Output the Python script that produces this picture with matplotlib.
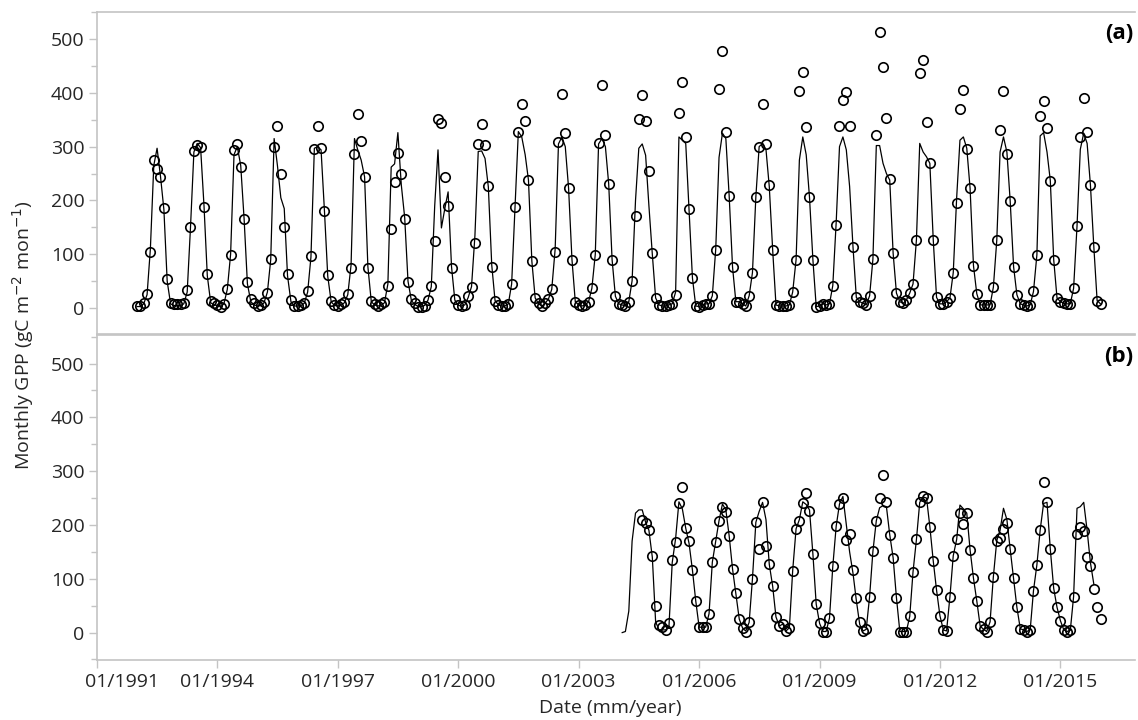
import matplotlib
matplotlib.use("Agg")
import matplotlib.pyplot as plt
import matplotlib.transforms as mtransforms
from matplotlib.ticker import MultipleLocator
import pandas as pd

plt.rcParams['font.family'] = ['Open Sans', 'DejaVu Sans']

# ---- panel (a): monthly GPP, Jan 1992 - Jan 2016 ----
obs_a = [
    4, 4, 9, 26, 104, 275, 258, 244, 186, 55, 10, 8,          # 1992
    8, 8, 9, 34, 150, 291, 303, 300, 187, 63, 14, 9,          # 1993
    6, 3, 8, 36, 99, 293, 305, 263, 166, 48, 17, 9,           # 1994
    4, 6, 12, 29, 92, 300, 339, 250, 151, 64, 15, 4,          # 1995
    4, 5, 9, 31, 97, 296, 338, 298, 181, 62, 14, 6,           # 1996
    4, 8, 12, 27, 75, 287, 361, 311, 244, 74, 14, 7,          # 1997
    4, 8, 12, 41, 147, 234, 289, 250, 166, 49, 17, 9,         # 1998
    3, 3, 4, 15, 41, 124, 352, 344, 244, 189, 74, 17,         # 1999
    6, 4, 6, 22, 40, 121, 304, 342, 303, 227, 76, 14,         # 2000
    6, 4, 4, 8, 45, 187, 327, 379, 348, 238, 87, 19,          # 2001
    9, 4, 9, 17, 35, 105, 309, 397, 325, 223, 90, 12,         # 2002
    6, 4, 6, 12, 37, 99, 307, 414, 322, 231, 90, 22,          # 2003
    8, 6, 4, 12, 51, 171, 351, 396, 348, 255, 103, 19,        # 2004
    6, 4, 4, 6, 8, 25, 363, 420, 318, 184, 56, 4,             # 2005
    3, 6, 8, 8, 23, 108, 407, 477, 327, 209, 76, 12,          # 2006
    12, 8, 4, 23, 66, 207, 300, 380, 305, 229, 108, 6,        # 2007
    4, 4, 4, 6, 30, 90, 404, 439, 337, 206, 90, 3,            # 2008
    4, 8, 6, 8, 42, 155, 338, 387, 402, 338, 113, 20,         # 2009
    12, 9, 6, 23, 91, 322, 513, 448, 354, 240, 102, 28,       # 2010
    12, 9, 15, 28, 45, 127, 437, 460, 346, 269, 127, 20,      # 2011
    8, 8, 12, 19, 66, 196, 369, 406, 295, 223, 79, 27,        # 2012
    6, 6, 6, 6, 39, 126, 331, 404, 286, 199, 77, 25,          # 2013
    8, 6, 4, 6, 31, 99, 356, 384, 335, 237, 90, 19,           # 2014
    12, 9, 8, 8, 37, 152, 317, 391, 327, 229, 114, 14,        # 2015
    8,                                                        # 2016
]
model_a = [
    3, 3, 8, 25, 110, 265, 297, 245, 183, 50, 8, 5,
    5, 5, 8, 30, 150, 290, 306, 298, 190, 60, 10, 6,
    5, 3, 8, 35, 100, 285, 300, 265, 165, 45, 12, 6,
    4, 5, 10, 30, 90, 315, 265, 205, 185, 60, 12, 4,
    4, 5, 9, 30, 95, 297, 300, 294, 180, 59, 12, 5,
    4, 6, 10, 25, 80, 315, 294, 275, 244, 77, 12, 6,
    4, 6, 10, 45, 262, 268, 326, 229, 168, 50, 14, 7,
    3, 3, 5, 15, 40, 190, 294, 149, 185, 216, 77, 15,
    5, 4, 6, 20, 40, 135, 291, 292, 278, 225, 80, 14,
    6, 4, 4, 8, 45, 190, 328, 318, 285, 238, 87, 19,
    8, 4, 9, 17, 35, 110, 305, 318, 300, 223, 90, 12,
    6, 4, 6, 12, 37, 100, 305, 315, 300, 231, 90, 22,
    8, 6, 4, 12, 51, 200, 297, 305, 284, 190, 100, 19,
    6, 4, 4, 6, 8, 30, 318, 312, 306, 184, 56, 4,
    3, 6, 8, 8, 23, 110, 280, 325, 315, 209, 76, 12,
    12, 8, 4, 23, 66, 207, 300, 306, 295, 226, 108, 6,
    4, 4, 4, 6, 30, 90, 275, 318, 285, 206, 90, 3,
    4, 8, 6, 8, 42, 160, 300, 318, 294, 226, 113, 20,
    12, 9, 6, 23, 91, 302, 302, 269, 250, 238, 102, 28,
    12, 9, 15, 28, 45, 127, 306, 290, 281, 269, 127, 20,
    8, 8, 12, 19, 66, 205, 312, 318, 297, 223, 79, 27,
    6, 6, 6, 6, 39, 126, 290, 318, 290, 199, 77, 25,
    8, 6, 4, 6, 31, 99, 320, 326, 290, 237, 90, 19,
    12, 9, 8, 8, 37, 152, 295, 325, 306, 229, 114, 14,
    8,
]

# ---- panel (b): observations Aug 2004 - Jan 2016, model Feb 2004 - Nov 2015 ----
obs_b = [
    209, 203, 191, 143, 50,                                   # 2004 (Aug-Dec)
    14, 10, 5, 17, 135, 168, 240, 271, 194, 170, 116, 59,     # 2005
    11, 11, 11, 35, 131, 168, 208, 234, 225, 180, 118, 74,    # 2006
    25, 8, 2, 19, 100, 205, 156, 242, 161, 127, 86, 29,       # 2007
    12, 16, 3, 9, 115, 193, 208, 240, 259, 226, 146, 53,      # 2008
    17, 2, 2, 27, 123, 198, 239, 250, 172, 183, 116, 64,      # 2009
    19, 3, 6, 67, 151, 208, 250, 293, 242, 182, 139, 65,      # 2010
    2, 2, 2, 30, 113, 173, 242, 253, 250, 197, 133, 79,       # 2011
    31, 5, 3, 67, 143, 173, 223, 202, 222, 154, 101, 59,      # 2012
    12, 6, 2, 20, 104, 171, 175, 192, 203, 155, 101, 47,      # 2013
    7, 5, 2, 5, 78, 126, 191, 279, 242, 155, 82, 47,          # 2014
    22, 5, 2, 4, 67, 183, 196, 188, 141, 123, 81, 47,         # 2015
    25,                                                       # 2016
]
model_b = [
    0, 2, 40, 170, 222, 228, 228, 205, 190, 140, 20,          # 2004 (Feb-Dec)
    5, 5, 5, 10, 130, 175, 243, 230, 194, 166, 116, 59,
    10, 10, 10, 35, 131, 170, 208, 239, 228, 180, 118, 73,
    25, 8, 3, 19, 100, 205, 225, 242, 210, 127, 86, 29,
    12, 16, 3, 9, 115, 193, 210, 243, 238, 228, 146, 53,
    17, 2, 2, 27, 123, 198, 239, 253, 200, 150, 110, 60,
    15, 3, 6, 67, 151, 208, 232, 236, 234, 182, 139, 65,
    2, 2, 2, 30, 113, 173, 242, 252, 250, 197, 133, 79,
    31, 5, 3, 67, 143, 173, 237, 230, 222, 154, 101, 59,
    12, 6, 2, 20, 104, 171, 190, 231, 210, 155, 101, 47,
    7, 5, 2, 5, 78, 126, 191, 240, 242, 155, 82, 47,
    22, 5, 2, 4, 67, 231, 234, 242, 190, 130, 90,
]

dates_a = pd.date_range("1992-01-01", periods=len(obs_a), freq="MS")
dates_ma = pd.date_range("1992-01-01", periods=len(model_a), freq="MS")
dates_b = pd.date_range("2004-08-01", periods=len(obs_b), freq="MS")
dates_mb = pd.date_range("2004-02-01", periods=len(model_b), freq="MS")

tick_years = [1991, 1994, 1997, 2000, 2003, 2006, 2009, 2012, 2015]
tick_labels = ["01/%d" % y for y in tick_years]

grey = "#c4c4c4"
txt = "#262626"

fig = plt.figure(figsize=(11.38, 7.2), dpi=100)
ax_a = fig.add_axes([0.0852, 0.5361, 0.9122, 0.4472])
ax_b = fig.add_axes([0.0852, 0.0833, 0.9122, 0.4514])

panels = [(ax_a, dates_ma, model_a, dates_a, obs_a, "(a)", (-48, 550)),
          (ax_b, dates_mb, model_b, dates_b, obs_b, "(b)", (-51, 553))]

for ax, dm, ym, do, yo, tag, ylim in panels:
    ax.plot(dm, ym, color="black", lw=0.9, zorder=2)
    ax.plot(do, yo, ls="none", marker="o", ms=6.8, mfc="none",
            mec="black", mew=1.2, zorder=3)
    ax.set_xlim(pd.Timestamp("1991-01-01"), pd.Timestamp("2016-11-10"))
    ax.set_ylim(*ylim)
    ax.yaxis.set_major_locator(MultipleLocator(100))
    ax.yaxis.set_minor_locator(MultipleLocator(50))
    ax.tick_params(axis="y", which="major", direction="out", length=6,
                   width=1, color=grey, labelsize=14, labelcolor=txt, pad=3)
    ax.tick_params(axis="y", which="minor", direction="out", length=4,
                   width=1, color=grey)
    for side in ["top", "left", "bottom"]:
        ax.spines[side].set_color(grey)
        ax.spines[side].set_linewidth(1.2)
    ax.spines["right"].set_visible(False)
    ax.text(0.998, 0.965, tag, transform=ax.transAxes, ha="right", va="top",
            fontsize=16, fontweight="bold", color="black")

ax_a.tick_params(axis="x", which="both", bottom=False, labelbottom=False)
ax_b.set_xticks([pd.Timestamp("%d-01-01" % y) for y in tick_years])
ax_b.set_xticklabels(tick_labels)
ax_b.tick_params(axis="x", direction="out", length=6, width=1, color=grey,
                 labelsize=14, labelcolor=txt, pad=3)
# first label sits to the right of its tick
first = ax_b.get_xticklabels()[0]
first.set_transform(first.get_transform() +
                    mtransforms.ScaledTranslation(0.25, 0, fig.dpi_scale_trans))

fig.text(0.020, 0.535, "Monthly GPP (gC m$^{-2}$ mon$^{-1}$)", rotation=90,
         ha="center", va="center", fontsize=14, color=txt)
fig.text(0.536, 0.016, "Date (mm/year)", ha="center", va="center",
         fontsize=14, color=txt)

fig.savefig("out.png", dpi=100)
